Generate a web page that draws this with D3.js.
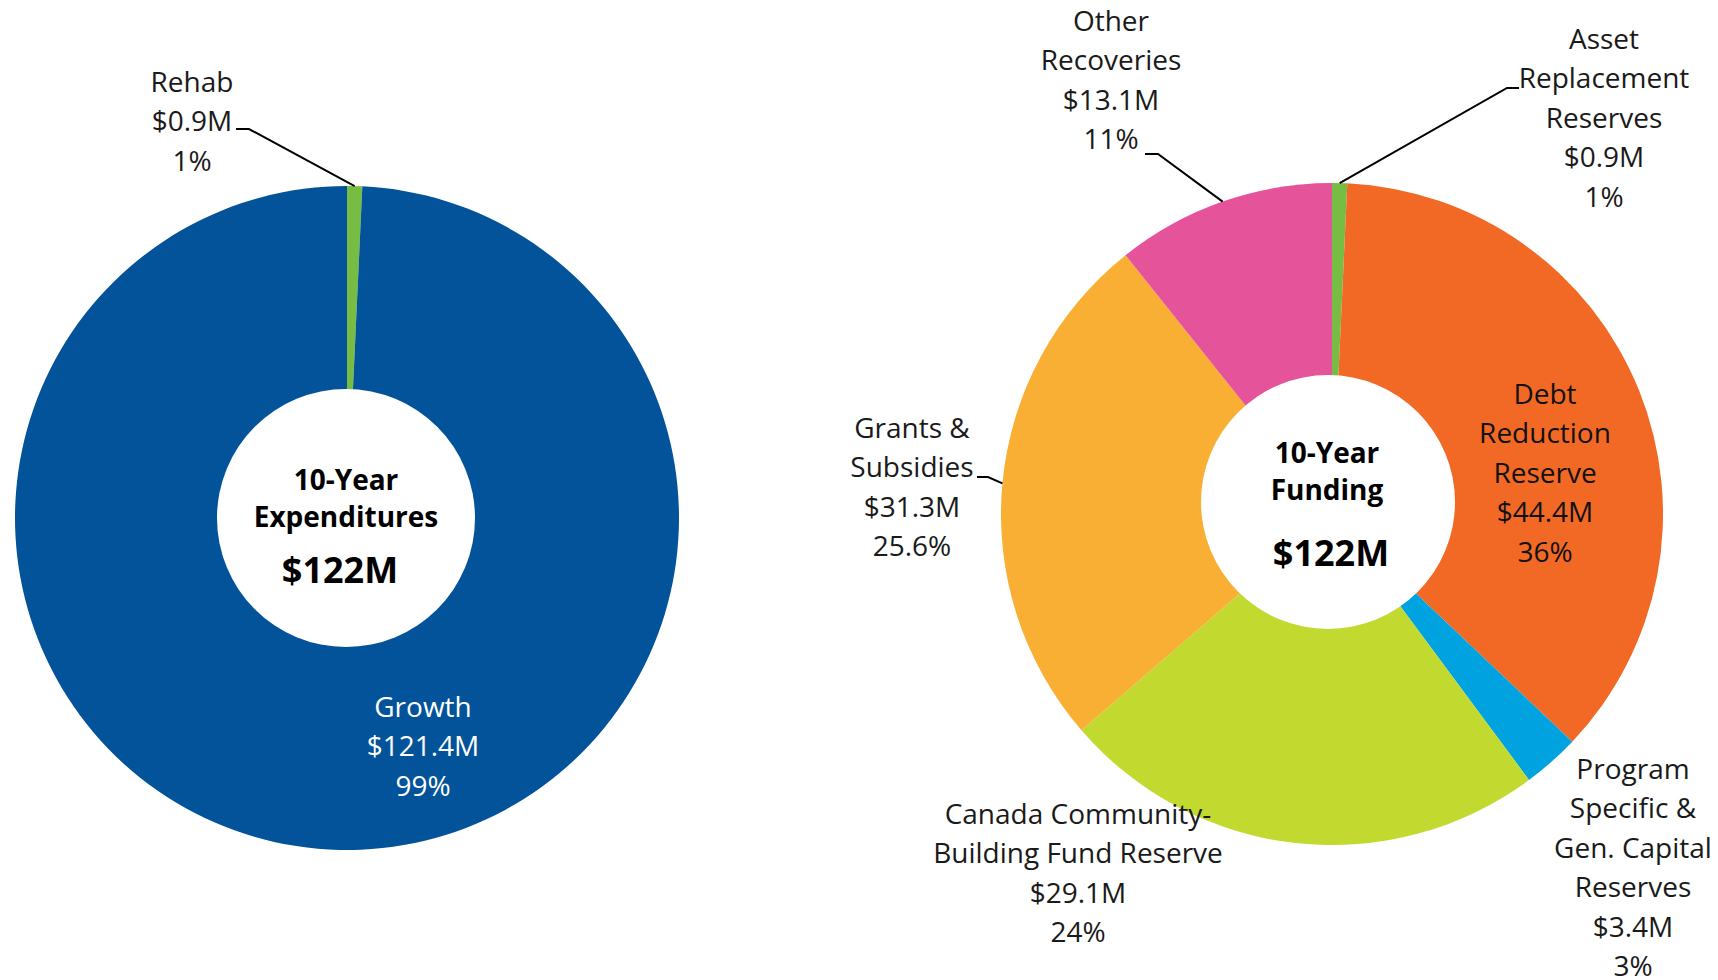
<!DOCTYPE html>
<html>
<head>
<meta charset="utf-8">
<script src="https://cdn.jsdelivr.net/npm/d3@7"></script>
<style>
    body { margin: 0; background: #fff; }
    text { font-family: "Open Sans", "Noto Sans", sans-serif; }
</style>
</head>
<body>
<svg id="chart" width="1718" height="980"></svg>
<script>
// 10-Year Expenditures
const expCategories = ["Rehab", "Growth"];
const expValues = [0.9, 121.4];
const expPercents = ["1%", "99%"];
const expColors = ["#77BD43", "#02539A"];
const expTotal = "$122M";

// 10-Year Funding
const fundCategories = [
    "Asset Replacement Reserves",
    "Debt Reduction Reserve",
    "Program Specific & Gen. Capital Reserves",
    "Canada Community-Building Fund Reserve",
    "Grants & Subsidies",
    "Other Recoveries"
];
const fundValues = [0.9, 44.4, 3.4, 29.1, 31.3, 13.1];
const fundPercents = ["1%", "36%", "3%", "24%", "25.6%", "11%"];
const fundColors = ["#77BD43", "#F26925", "#00A2DF", "#C2D92F", "#F9AE34", "#E5549B"];
const fundTotal = "$122M";

// how category names wrap in the labels
const expNameLines = [["Rehab"], ["Growth"]];
const fundNameLines = [
    ["Asset", "Replacement", "Reserves"],
    ["Debt", "Reduction", "Reserve"],
    ["Program", "Specific &", "Gen. Capital", "Reserves"],
    ["Canada Community-", "Building Fund Reserve"],
    ["Grants &", "Subsidies"],
    ["Other", "Recoveries"]
];

const svg = d3.select("#chart");
const fmt = d3.format(".1f");
const lineH = 39.4;

function drawDonut(opt) {
    const g = svg.append("g")
        .attr("transform", `translate(${opt.cx},${opt.cy})`);

    const pie = d3.pie().sort(null).value(d => d);
    const arcs = pie(opt.values);
    const arc = d3.arc().innerRadius(0).outerRadius(opt.r);
    const edge = d3.arc().innerRadius(opt.r).outerRadius(opt.r);

    g.selectAll("path.slice")
        .data(arcs)
        .enter()
        .append("path")
        .attr("class", "slice")
        .attr("d", arc)
        .attr("fill", (d, i) => opt.colors[i]);

    // white hole (drawn on top like the original)
    g.append("circle")
        .attr("cx", opt.holeDx)
        .attr("cy", opt.holeDy)
        .attr("r", opt.holeR)
        .attr("fill", "#fff");

    // leader lines: label end -> elbow -> slice edge
    opt.labels.forEach((lab, i) => {
        if (!lab.leader) return;
        const c = edge.centroid(arcs[i]);
        const pts = lab.leader.map(p => [p[0] - opt.cx, p[1] - opt.cy]).concat([c]);
        g.append("path")
            .attr("d", d3.line()(pts))
            .attr("fill", "none")
            .attr("stroke", "#000")
            .attr("stroke-width", 2);
    });

    // slice labels
    opt.labels.forEach((lab, i) => {
        const lines = opt.names[i].concat(["$" + fmt(opt.values[i]) + "M", opt.percents[i]]);
        const t = svg.append("text")
            .attr("text-anchor", "middle")
            .attr("font-size", 28)
            .attr("fill", lab.color || "#1a1a1a");
        lines.forEach((s, k) => {
            t.append("tspan")
                .attr("x", lab.x)
                .attr("y", lab.y + k * lineH)
                .text(s);
        });
    });

    // centre title
    const ct = svg.append("text")
        .attr("text-anchor", "middle")
        .attr("font-weight", "bold")
        .attr("fill", "#000");
    opt.title.forEach((s, k) => {
        ct.append("tspan")
            .attr("x", opt.titleX)
            .attr("y", opt.titleY[k])
            .attr("font-size", 28)
            .text(s);
    });
    ct.append("tspan")
        .attr("x", opt.totalX)
        .attr("y", opt.titleY[opt.title.length])
        .attr("font-size", 36)
        .text(opt.total);
}

drawDonut({
    cx: 347, cy: 518, r: 332,
    holeDx: -1, holeDy: 0, holeR: 129,
    values: expValues, colors: expColors, percents: expPercents, names: expNameLines,
    labels: [
        { x: 192, y: 92, leader: [[236, 129], [249, 129]] },
        { x: 423, y: 717, color: "#fff" }
    ],
    title: ["10-Year", "Expenditures"], total: expTotal,
    titleX: 346, totalX: 340, titleY: [490, 527, 583]
});

drawDonut({
    cx: 1332, cy: 514, r: 331,
    holeDx: -4, holeDy: -12, holeR: 127,
    values: fundValues, colors: fundColors, percents: fundPercents, names: fundNameLines,
    labels: [
        { x: 1604, y: 49, leader: [[1519, 88], [1507, 88]] },
        { x: 1545, y: 404, color: "#111" },
        { x: 1633, y: 779 },
        { x: 1078, y: 824 },
        { x: 912, y: 438, leader: [[977, 477], [988, 477]] },
        { x: 1111, y: 31, leader: [[1145, 154], [1158, 154]] }
    ],
    title: ["10-Year", "Funding"], total: fundTotal,
    titleX: 1327, totalX: 1331, titleY: [463, 500, 566]
});
</script>
</body>
</html>
